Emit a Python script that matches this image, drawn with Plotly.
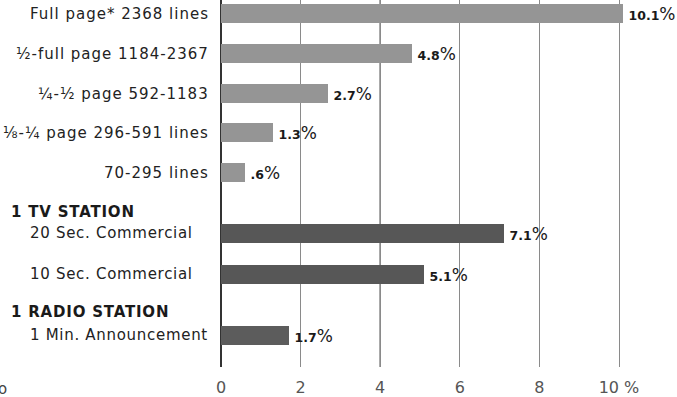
import plotly.graph_objects as go

# ---- data ----
categories = [
    "Full page* 2368 lines",
    "½-full page 1184-2367",
    "¼-½ page 592-1183",
    "⅛-¼ page 296-591 lines",
    "70-295 lines",
    "20 Sec. Commercial",
    "10 Sec. Commercial",
    "1 Min. Announcement",
]
values = [10.1, 4.8, 2.7, 1.3, 0.6, 7.1, 5.1, 1.7]
value_labels = ["10.1", "4.8", "2.7", "1.3", ".6", "7.1", "5.1", "1.7"]
groups = ["print", "print", "print", "print", "print", "tv", "tv", "radio"]
headers = ["1 TV STATION", "1 RADIO STATION"]
x_ticks = [0, 2, 4, 6, 8, 10]
x_tick_labels = ["0", "2", "4", "6", "8", "10 %"]

# ---- layout constants (pixels) ----
W, H = 677, 397
ML, MT, MB = 221, 0, 30
PW = W - ML
PH = H - MT - MB
ROW_Y = [13, 53, 93, 132, 172, 233, 274, 335]
HEADER_Y = [212, 312]
BAR_W = 19
XMAX = PW / 39.8

colors = {"print": "#959595", "tv": "#575757", "radio": "#5c5c5c"}
FONT = "DejaVu Sans"


def px_x(px):
    return (px - ML) / PW


def spaced(s, ls):
    return f"<span style='letter-spacing:{ls}px'>{s}</span>"


fig = go.Figure()
fig.add_trace(go.Bar(
    x=values,
    y=ROW_Y,
    orientation="h",
    width=BAR_W,
    marker=dict(color=[colors[g] for g in groups], line=dict(width=0)),
    text=[f"\u2009{v}<span style='font-size:17px;font-weight:normal'>%</span>" for v in value_labels],
    textposition="outside",
    constraintext="none",
    textfont=dict(family=FONT, size=12.5, color="#1a1a1a", weight="bold"),
    cliponaxis=False,
    hoverinfo="skip",
))

annotations = []
for lab, y, g in zip(categories, ROW_Y, groups):
    if g == "print":
        annotations.append(dict(
            text=spaced(lab, 1), x=0, xref="paper", y=y + 1, yref="y",
            xanchor="right", yanchor="middle", xshift=-10, showarrow=False,
            font=dict(family=FONT, size=15, color="#222"),
        ))
    else:
        annotations.append(dict(
            text=spaced(lab, 0.7), x=px_x(28), xref="paper", y=y, yref="y",
            xanchor="left", yanchor="middle", showarrow=False,
            font=dict(family=FONT, size=15, color="#222"),
        ))
for h, y in zip(headers, HEADER_Y):
    annotations.append(dict(
        text=spaced(h, 0.8), x=px_x(9), xref="paper", y=y, yref="y",
        xanchor="left", yanchor="middle", showarrow=False,
        font=dict(family=FONT, size=15, color="#1a1a1a", weight="bold"),
    ))
annotations.append(dict(
    text="o", x=px_x(-4), xref="paper", y=(PH - 389) / PH, yref="paper",
    xanchor="left", yanchor="middle", showarrow=False,
    font=dict(family=FONT, size=15, color="#444"),
))

fig.update_layout(
    width=W, height=H,
    margin=dict(l=ML, r=0, t=MT, b=MB, pad=0),
    paper_bgcolor="white", plot_bgcolor="white",
    showlegend=False,
    bargap=0,
    annotations=annotations,
    shapes=[dict(type="line", xref="x", yref="paper", x0=4, x1=4, y0=0, y1=1,
                 line=dict(color="#444", width=1.3), layer="below")],
    xaxis=dict(
        range=[0, XMAX], tickvals=x_ticks, ticktext=x_tick_labels,
        showgrid=True, gridcolor="#8a8a8a", gridwidth=1,
        zeroline=True, zerolinecolor="#333", zerolinewidth=1.6,
        showline=False, ticks="", ticklabelstandoff=9,
        tickfont=dict(family=FONT, size=16, color="#555"),
        fixedrange=True,
    ),
    yaxis=dict(
        range=[PH, 0], showticklabels=False, showgrid=False,
        zeroline=False, showline=False, ticks="", fixedrange=True,
    ),
)

fig.write_html("out.html", config={"displayModeBar": False},
               post_script="document.body.style.margin='0';")
